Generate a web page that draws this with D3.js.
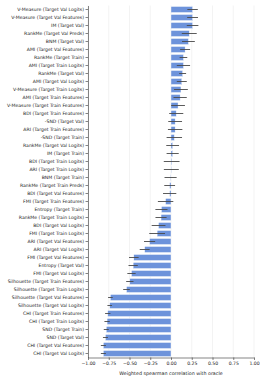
<!DOCTYPE html>
<html>
<head>
<meta charset="utf-8">
<script src="https://cdn.jsdelivr.net/npm/d3@7"></script>
<style>
  body { margin: 0; background: #fff; }
  svg text { font-family: "DejaVu Sans", sans-serif; fill: #222; }
  .tick text { font-size: 4.6px; }
  .domain, .tick line { stroke: #333; stroke-width: 0.6; }
</style>
</head>
<body>
<div id="chart"></div>
<script>
const WIDTH = 266;
const HEIGHT = 380;
const LEFT = 88;
const RIGHT = 254;
const TOP = 5.5;
const BOTTOM = 357.5;

const metrics = [
    "V-Measure (Target Val Logits)", "V-Measure (Target Val Features)", "IM (Target Val)",
    "RankMe (Target Val Preds)", "BNM (Target Val)", "AMI (Target Val Features)",
    "RankMe (Target Train)", "AMI (Target Train Logits)", "RankMe (Target Val)",
    "AMI (Target Val Logits)", "V-Measure (Target Train Logits)", "AMI (Target Train Features)",
    "V-Measure (Target Train Features)", "BDI (Target Train Features)", "-SND (Target Val)",
    "ARI (Target Train Features)", "-SND (Target Train)", "RankMe (Target Val Logits)",
    "IM (Target Train)", "BDI (Target Train Logits)", "ARI (Target Train Logits)",
    "BNM (Target Train)", "RankMe (Target Train Preds)", "BDI (Target Val Features)",
    "FMI (Target Train Features)", "Entropy (Target Train)", "RankMe (Target Train Logits)",
    "BDI (Target Val Logits)", "FMI (Target Train Logits)", "ARI (Target Val Features)",
    "ARI (Target Val Logits)", "FMI (Target Val Features)", "Entropy (Target Val)",
    "FMI (Target Val Logits)", "Silhouette (Target Train Features)", "Silhouette (Target Train Logits)",
    "Silhouette (Target Val Features)", "Silhouette (Target Val Logits)", "CHI (Target Train Features)",
    "CHI (Target Train Logits)", "SND (Target Train)", "SND (Target Val)",
    "CHI (Target Val Features)", "CHI (Target Val Logits)"
];

const correlation = [
    0.26, 0.26, 0.26, 0.22, 0.21, 0.17, 0.15, 0.15, 0.14, 0.13, 0.12,
    0.11, 0.085, 0.063, 0.05, 0.05, 0.04, 0.02, 0.02, 0.008, 0.004,
    -0.005, -0.016, -0.016, -0.065, -0.115, -0.12, -0.15, -0.167, -0.258, -0.317,
    -0.448, -0.456, -0.476, -0.496, -0.536, -0.73, -0.738, -0.762, -0.77, -0.78,
    -0.79, -0.815, -0.815
];

const errors = [
    0.063, 0.065, 0.07, 0.09, 0.077, 0.06, 0.046, 0.08, 0.042, 0.06, 0.083,
    0.08, 0.083, 0.085, 0.083, 0.087, 0.093, 0.077, 0.073, 0.095, 0.09,
    0.073, 0.065, 0.08, 0.093, 0.073, 0.067, 0.083, 0.095, 0.067, 0.06,
    0.058, 0.056, 0.05, 0.044, 0.04, 0.028, 0.028, 0.032, 0.032, 0.03,
    0.03, 0.03, 0.03
];

const xTicks = [-1, -0.75, -0.5, -0.25, 0, 0.25, 0.5, 0.75, 1];

const rows = metrics.map((m, i) => ({ name: m, value: correlation[i], err: errors[i] }));

let svg = d3.select("#chart")
    .append("svg")
    .attr("width", WIDTH)
    .attr("height", HEIGHT);

let xScale = d3.scaleLinear()
    .domain([-1, 1])
    .range([LEFT, RIGHT]);

let yScale = d3.scaleBand()
    .domain(metrics)
    .range([TOP, BOTTOM])
    .paddingInner(0.25)
    .paddingOuter(0.125);

// vertical grid
svg.append("g")
    .selectAll("line")
    .data(xTicks)
    .enter()
    .append("line")
    .attr("x1", d => xScale(d))
    .attr("x2", d => xScale(d))
    .attr("y1", TOP)
    .attr("y2", BOTTOM)
    .attr("stroke", "#ebebeb")
    .attr("stroke-width", 0.6);

// bars
svg.append("g")
    .selectAll("rect")
    .data(rows)
    .enter()
    .append("rect")
    .attr("x", d => Math.min(xScale(0), xScale(d.value)))
    .attr("y", d => yScale(d.name))
    .attr("width", d => Math.abs(xScale(d.value) - xScale(0)))
    .attr("height", yScale.bandwidth())
    .attr("fill", "#6d93db")
    .attr("stroke", "#ffffff")
    .attr("stroke-width", 0.4);

// error bars
svg.append("g")
    .selectAll("line")
    .data(rows)
    .enter()
    .append("line")
    .attr("x1", d => xScale(d.value - d.err))
    .attr("x2", d => xScale(d.value + d.err))
    .attr("y1", d => yScale(d.name) + yScale.bandwidth() / 2)
    .attr("y2", d => yScale(d.name) + yScale.bandwidth() / 2)
    .attr("stroke", "#4a4a4a")
    .attr("stroke-width", 0.9);

// axes
svg.append("g")
    .attr("transform", "translate(0," + BOTTOM + ")")
    .call(d3.axisBottom(xScale)
        .tickValues(xTicks)
        .tickSize(2.5)
        .tickPadding(1.5)
        .tickSizeOuter(0)
        .tickFormat(d => d3.format(".2f")(d).replace("-", "\u2212")));

svg.append("g")
    .attr("transform", "translate(" + LEFT + ",0)")
    .call(d3.axisLeft(yScale)
        .tickSize(2.5)
        .tickPadding(1.5)
        .tickSizeOuter(0));

svg.selectAll(".domain").attr("d", function () {
    return d3.select(this).attr("d");
});

// x label
svg.append("text")
    .attr("x", (LEFT + RIGHT) / 2)
    .attr("y", 374.5)
    .attr("text-anchor", "middle")
    .style("font-size", "4.8px")
    .text("Weighted spearman correlation with oracle");
</script>
</body>
</html>
